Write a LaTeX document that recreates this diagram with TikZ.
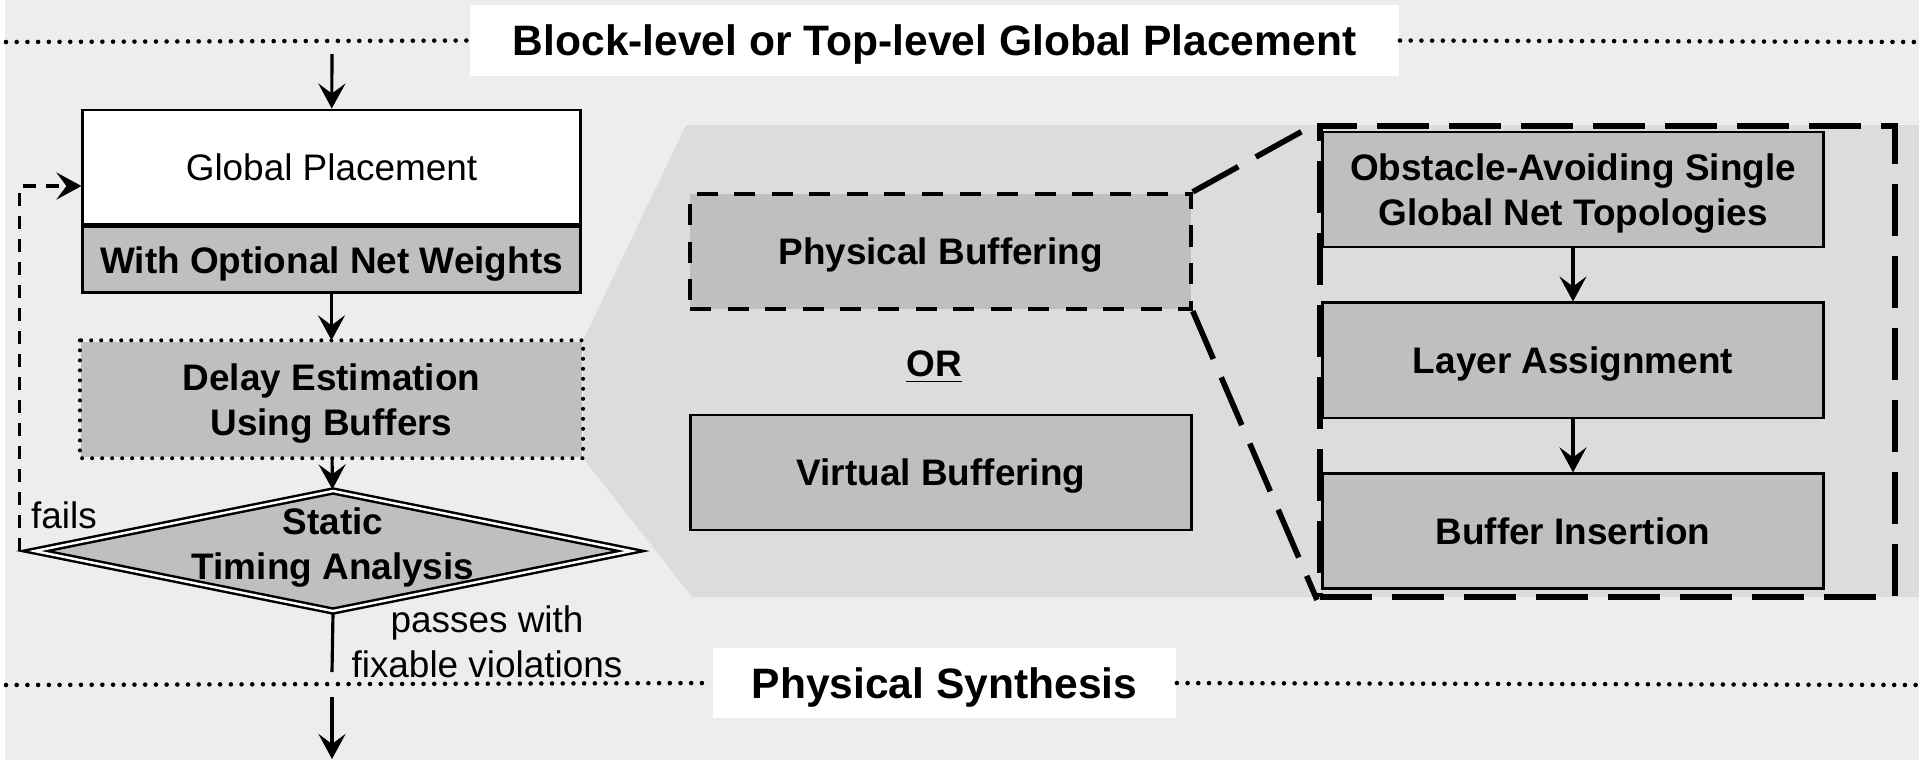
\documentclass[tikz,border=0pt]{standalone}
\usepackage{fontspec}
\setmainfont{Liberation Sans}
\usetikzlibrary{arrows.meta,positioning,shapes.geometric,backgrounds}
\definecolor{bggray}{HTML}{EDEDED}
\definecolor{zoomgray}{HTML}{DCDCDC}
\definecolor{boxgray}{HTML}{BFBFBF}

\begin{document}
\begin{tikzpicture}[
  x=0.01cm, y=-0.01cm,
  node distance=5.3mm and 9mm,
  box/.style={draw, line width=0.8pt, fill=boxgray, align=center,
              font=\fontsize{10.5}{12.8}\selectfont\bfseries, text depth=0pt,
              minimum width=5cm, minimum height=11.5mm, inner sep=2pt},
  band/.style={fill=white, align=center, inner sep=0pt, text depth=0pt,
               font=\fontsize{12.1}{14}\selectfont\bfseries},
  sep/.style={line width=1.3pt, dash pattern=on 0pt off 1.07mm, line cap=round},
  dots/.style={line width=1.15pt, dash pattern=on 0pt off 1.0mm, line cap=round},
  frame/.style={line width=1.6pt, dash pattern=on 5.2mm off 2mm},
  arr/.style={-{Stealth[length=2.5mm, width=2.7mm, inset=1mm]}, line width=0.9pt},
  note/.style={align=center, font=\fontsize{10.5}{12.8}\selectfont}]
  \useasboundingbox (0,0) rectangle (1919,760);

  \node[band, minimum width=9.29cm, minimum height=7.1mm] (top) at (934.5,40.5)
    {Block-level or Top-level Global Placement};
  \node[band, minimum width=4.63cm, minimum height=7mm] (synth) at (944.5,683)
    {Physical Synthesis};
  \coordinate (topl) at (6,42);
  \coordinate (topr) at (1919,42);
  \coordinate (botl) at (6,685);
  \coordinate (botr) at (1919,685);
  \draw[sep] (topl) -- (top.west);
  \draw[sep] (top.east) -- (topr);
  \draw[sep] (botl) -- (synth.west);
  \draw[sep] (synth.east) -- (botr);

  \node[draw, line width=0.8pt, fill=white, font=\fontsize{10.5}{12.8}\selectfont,
        minimum width=4.97cm, minimum height=11.4mm] (gp) at (331.5,167) {Global Placement};
  \node[box, minimum width=4.97cm, minimum height=6.6mm, below=0pt of gp] (gpw)
    {With Optional Net Weights};
  \node[box, draw=none, below=4.6mm of gpw] (delay) {Delay Estimation\\Using Buffers};
  \draw[dots] (delay.north west) rectangle (delay.south east);
  \node[draw, diamond, fill=boxgray, line width=0.7pt, double=white, double distance=0.7pt,
        minimum width=5.97cm, minimum height=1.21cm, inner sep=0pt] (sta) at (333,551) {};
  \node[align=center, font=\fontsize{10.5}{12.8}\selectfont\bfseries] (stalabel)
    at ([yshift=0.03cm]sta.center) {Static\\Timing Analysis};
  \node[note] (fails) at (64,515) {fails};
  \node[note] (passes) at (487,642) {passes with\\fixable violations};

  \coordinate (in) at (332,54);
  \coordinate (passend) at (332,672);
  \coordinate (out) at (332,697);
  \coordinate (outtip) at (332,759);
  \draw[arr] (in) -- (gp);
  \draw[arr] (gpw) -- (delay);
  \draw[arr] (delay) -- (sta);
  \draw[line width=0.9pt] (sta.south) -- (passend);
  \draw[arr] (out) -- (outtip);
  \draw[arr, dash pattern=on 1.3mm off 1mm] ([xshift=-0.135cm]sta.west)
    |- ([yshift=-0.19cm]gp.west);

  \node[box, line width=1.2pt, dash pattern=on 2.1mm off 1.65mm] (phys) at (940.5,251.5)
    {Physical Buffering};
  \node[font=\fontsize{10.5}{12.8}\selectfont\bfseries] (or) at (934,367) {\underline{OR}};
  \node[box] (virt) at (941,472.5) {Virtual Buffering};

  \node[box] (obst) at (1573,189.5) {Obstacle-Avoiding Single\\Global Net Topologies};
  \node[box, below=of obst] (layer) {Layer Assignment};
  \node[box, below=of layer] (ins) {Buffer Insertion};
  \draw[arr] (obst) -- (layer);
  \draw[arr] (layer) -- (ins);
  \node[draw, frame, minimum width=5.75cm, minimum height=4.71cm] (zoomframe) at (1607.5,361.5) {};
  \draw[frame] (phys.north east) -- (zoomframe.north west);
  \draw[frame] (phys.south east) -- (zoomframe.south west);

  \begin{scope}[on background layer]
    \fill[bggray] (5,0) rectangle (1919,760);
    \fill[zoomgray] (delay.north east) -- (686,125) -- (1919,125) -- (1919,597)
      -- (692,597) -- (delay.south east) -- cycle;
  \end{scope}
\end{tikzpicture}
\end{document}
